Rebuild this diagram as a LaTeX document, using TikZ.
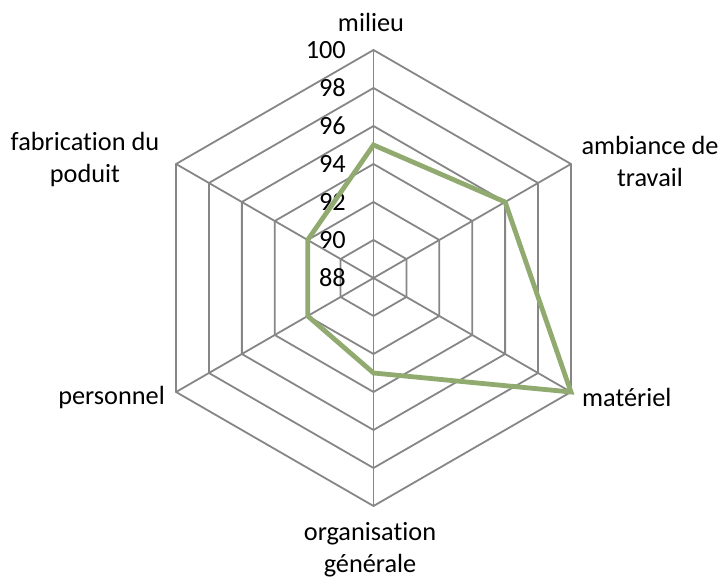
\documentclass[tikz,border=0pt]{standalone}
\usepackage{fontspec}
\setmainfont{Carlito}[Ligatures={NoCommon}]
\usetikzlibrary{calc}
\begin{document}
\begin{tikzpicture}[x=1pt,y=1pt,
  grid/.style={draw={rgb,255:red,134;green,134;blue,134}, line width=1.8pt},
  series/.style={draw={rgb,255:red,145;green,170;blue,112}, line width=4.8pt, line join=miter},
  axislabel/.style={font=\fontsize{26.3}{32}\selectfont, align=center, inner sep=0pt},
  ticklabel/.style={font=\fontsize{26.3}{32}\selectfont, anchor=east, inner sep=0pt}]
\useasboundingbox (0,0) rectangle (723,581);
\coordinate (C) at (373.5,303);
% concentric hexagons, one per tick (90 ... 100)
\foreach \k in {1,...,6}{
  \draw[grid] ($(C)+(90:\k*38)$) foreach \a in {30,-30,-90,-150,150}{ -- ($(C)+(\a:\k*38)$) } -- cycle;
}
% spokes
\foreach \a/\n in {90/a,30/b,-30/c,-90/d,-150/e,150/f}{
  \coordinate (end\n) at ($(C)+(\a:228)$);
  \draw[grid] (C) -- (end\n);
}
% tick labels
\foreach \v [count=\i from 0] in {88,90,92,94,96,98,100}{
  \node[ticklabel] (t\v) at (346,303+\i*38) {\v};
}
% axis labels
\node[axislabel] (milieu) at (371,559) {milieu};
\node[axislabel] (ambiance) at (650,420) {ambiance de\\travail};
\node[axislabel, anchor=west] (materiel) at (582,184) {matériel};
\node[axislabel] (organisation) at (370,31) {organisation\\générale};
\node[axislabel, anchor=east] (personnel) at (165,184) {personnel};
\node[axislabel] (fabrication) at (85,422) {fabrication du\\poduit};
% data series: 95, 96, 100, 93, 92, 92 (scale 88..100)
\coordinate (p1) at ($(C)+(90:7*19)$);
\coordinate (p2) at ($(C)+(30:8*19)$);
\coordinate (p3) at ($(C)+(-30:12*19)$);
\coordinate (p4) at ($(C)+(-90:5*19)$);
\coordinate (p5) at ($(C)+(-150:4*19)$);
\coordinate (p6) at ($(C)+(150:4*19)$);
\draw[series] (p1) -- (p2) -- (p3) -- (p4) -- (p5) -- (p6) -- cycle;
\end{tikzpicture}
\end{document}
